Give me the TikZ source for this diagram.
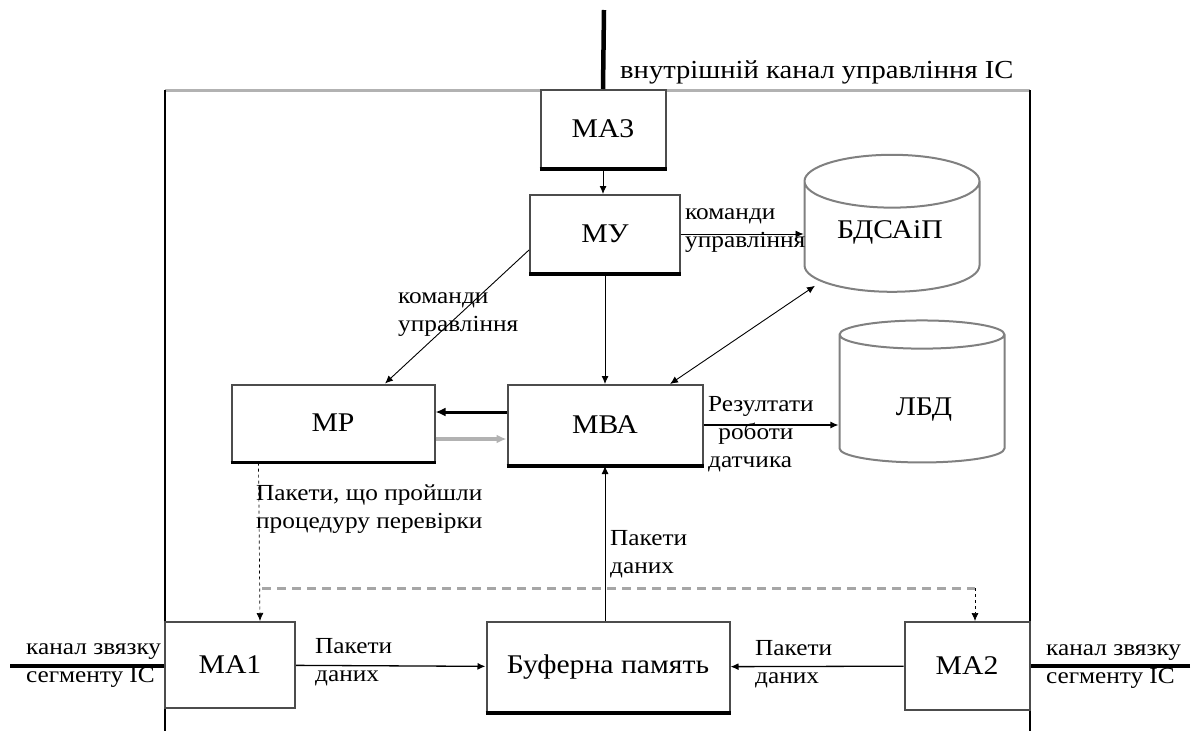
\documentclass[tikz,border=0pt]{standalone}
\usepackage{fontspec}
\setmainfont{Liberation Serif}[FakeStretch=1.1]
\usetikzlibrary{shapes.geometric,arrows.meta}
\tikzset{
  blok/.style={draw=black!70, line width=2pt, fill=white, inner sep=0pt,
    font=\fontsize{27}{30}\selectfont},
  baza/.style={cylinder, shape border rotate=90, draw=black!50, line width=2pt,
    fill=white, inner sep=0pt, font=\fontsize{27}{30}\selectfont},
  nazva/.style={font=\fontsize{27}{30}\selectfont},
  mitka/.style={anchor=west, align=left, inner sep=0pt,
    font=\fontsize{23}{28}\selectfont},
  strilka/.style={-{Latex[length=8pt,width=7pt]}, line width=0.9pt},
  kanal/.style={line width=4.5pt},
}
\begin{document}
\begin{tikzpicture}[x=1pt, y=-1pt]
	\useasboundingbox (0,0) rectangle (1195,731);
	% ramka
	\draw[gray!60, line width=3pt] (165,90) -- (1030,90);
	\draw[line width=2pt] (165,90) -- (165,731) (1030,90) -- (1030,731);
	% bloky
	\node[blok, minimum width=125pt, minimum height=78pt] (MA3) at (603,129) {МА3};
	\node[blok, minimum width=150pt, minimum height=78pt] (MU)  at (605,234) {МУ};
	\node[blok, minimum width=195pt, minimum height=80pt] (MVA) at (605,425) {МВА};
	\node[blok, minimum width=203pt, minimum height=77pt] (MP)  at (333,423) {МР};
	\node[blok, minimum width=243pt, minimum height=90pt] (BUF) at (608,667) {Буферна память};
	\node[blok, minimum width=130pt, minimum height=86pt] (MA1) at (230,665) {МА1};
	\node[blok, minimum width=125pt, minimum height=88pt] (MA2) at (967,666) {МА2};
	\foreach \b in {MA3,MU,MVA,MP,BUF}
		\draw[line width=3.5pt] (\b.south west) -- (\b.south east);
	\node[baza, minimum width=175pt, minimum height=137pt, aspect=0.5] (BD)  at (892,237) {\phantom{БДСАіП}};
	\node[baza, minimum width=165pt, minimum height=142pt, aspect=0.5] (LBD) at (922,399) {\phantom{ЛБД}};
	\node[nazva] (tBD)  at (890,232) {БДСАіП};
	\node[nazva] (tLBD) at (924,410) {ЛБД};
	% kanaly
	\coordinate (verh) at (604,10);
	\coordinate (livyj) at (10,666);
	\coordinate (pravyj) at (1190,666);
	\draw[kanal] (verh) -- (MA3.north);
	\draw[kanal] (livyj) -- (livyj -| MA1.west);
	\draw[kanal] (pravyj) -- (pravyj -| MA2.east);
	\node[mitka, font=\fontsize{26}{30}\selectfont] (t0) at (620,72) {внутрішній канал управління ІС};
	\node[mitka] (t1) at (26,666) {канал звязку\\сегменту ІС};
	\node[mitka] (t2) at (1046,667) {канал звязку\\сегменту ІС};
	% zvjazky
	\draw[strilka] (MA3.south) -- (MA3.south |- MU.north);
	\draw[strilka] (MU.east) -- (MU.east -| BD.west);
	\draw[strilka] ([yshift=-16pt]MU.west) -- ([xshift=52pt]MP.north);
	\draw[strilka] (MU) -- (MVA);
	\draw[{Latex[length=8pt,width=7pt]}-{Latex[length=8pt,width=7pt]}, line width=0.9pt]
		([xshift=65pt]MVA.north) -- ([xshift=-77pt,yshift=7pt]BD.south);
	\draw[-{Latex[length=10pt,width=9pt]}, line width=3pt] ([yshift=13pt]MVA.west) -- ([yshift=13pt]MVA.west -| MP.east);
	\draw[-{Latex[length=10pt,width=9pt]}, line width=3.5pt, gray!60] ([yshift=-16pt]MP.east) -- ([yshift=-16pt]MP.east -| MVA.west);
	\draw[strilka, line width=1.3pt] (MVA.east) -- (MVA.east -| LBD.west);
	\draw[strilka] (BUF.north -| MVA.south) -- (MVA.south);
	\draw[strilka, line width=1.3pt] (MA1) -- (BUF);
	\draw[strilka, line width=1.3pt] (MA2) -- (BUF);
	% perevireni pakety
	\coordinate (vidg1) at (262,588);
	\coordinate (vidg2) at (975,588);
	\draw[strilka, dashed, line width=0.7pt] ([xshift=28pt]MP.south west) -- ([xshift=30pt]MA1.north);
	\draw[gray!70, line width=3pt, dash pattern=on 9pt off 6pt] (vidg1) -- (vidg2);
	\draw[strilka, dashed, line width=0.7pt] (vidg2) -- ([xshift=8pt]MA2.north);
	% pidpysy
	\node[mitka] (p1) at (685,231) {команди\\управління};
	\node[mitka] (p2) at (398,315) {команди\\управління};
	\node[mitka] (p3) at (708,434) {Резултати\\\ \,роботи\\датчика};
	\node[mitka] (p4) at (256,509) {Пакети, що пройшли\\процедуру перевірки};
	\node[mitka] (p5) at (610,554) {Пакети\\даних};
	\node[mitka] (p6) at (315,662) {Пакети\\даних};
	\node[mitka] (p7) at (755,664) {Пакети\\даних};
\end{tikzpicture}
\end{document}
